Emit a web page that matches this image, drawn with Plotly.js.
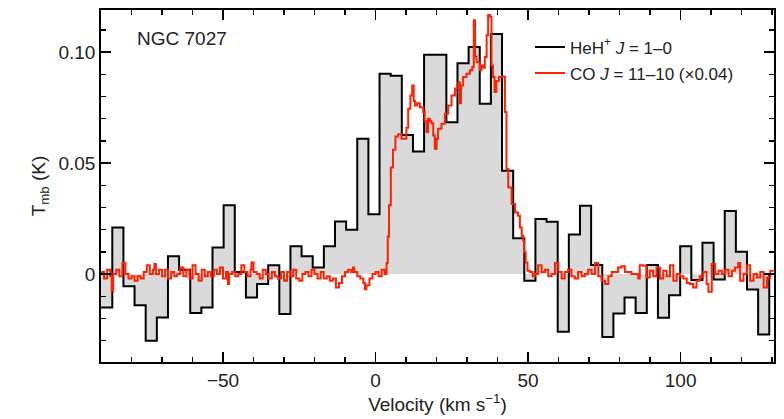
<!DOCTYPE html>
<html>
<head>
<meta charset="utf-8">
<script src="https://cdn.plot.ly/plotly-3.0.1.min.js"></script>
<style>html,body{margin:0;padding:0;background:#fff;}#chart{width:784px;height:419px;}</style>
</head>
<body>
<div id="chart"></div>
<script>
// HeH+ J=1-0 spectrum: bin edges (km/s) and bin values (K)
var hehEdges = [-89.95,-86.30,-82.65,-79.00,-75.35,-71.70,-68.05,-64.40,-60.75,-57.10,
  -53.45,-49.80,-46.15,-42.50,-38.85,-35.20,-31.55,-27.90,-24.25,-20.60,
  -16.95,-13.30,-9.65,-6.00,-2.35,1.30,4.95,8.60,12.25,15.90,
  19.55,23.20,26.85,30.50,34.15,37.80,41.45,45.10,48.75,52.40,
  56.05,59.70,63.35,67.00,70.65,74.30,77.95,81.60,85.25,88.90,
  92.55,96.20,99.85,103.50,107.15,110.80,114.45,118.10,121.75,125.40,
  129.05,132.70];
var hehT = [-0.015,0.021,-0.0055,-0.014,-0.030,-0.0195,0.008,0.002,-0.0175,-0.015,
  0.012,0.031,0.001,-0.0105,-0.0045,0.004,-0.018,0.0126,0.008,0.003,
  0.0126,0.0237,0.020,0.061,0.027,0.0903,0.0894,0.0627,0.0552,0.0988,
  0.0988,0.0684,0.095,0.1023,0.0768,0.1082,0.0466,0.0162,-0.003,0.0248,
  0.0236,-0.026,0.0179,0.0308,0.0041,-0.0283,-0.0177,-0.0105,-0.0175,0.0041,
  -0.0197,-0.0095,0.0126,-0.0027,0.0141,-0.0024,0.0284,0.0101,-0.0069,-0.0272,
  0.000];

// CO J=11-10 (x0.04) spectrum, in three pieces
var coLeftV = [-90,-89,-88,-87,-86.5,-86,-85,-84,-83,-82,
  -81,-80,-79,-78,-77,-76,-75,-74,-73,-72.5,
  -72,-71,-70,-69,-68,-67,-66,-65,-64,-63,
  -62,-61,-60,-59,-58,-57,-56,-55,-54,-53,
  -52,-51,-50,-49,-48.4,-48,-47,-46,-45,-44,
  -43,-42,-41,-40.7,-40,-39,-38,-37,-36,-35,
  -34,-33,-32,-31,-30,-29,-28,-27,-26,-25,
  -24,-23,-22,-21,-20,-19,-18,-17,-16,-15,
  -14,-13,-12,-11,-10,-9,-8,-7.4,-7,-6,
  -5,-4,-3.5,-3,-2,-1,0,1,2,3];
var coLeftT = [0.001,-0.002,0.002,-0.001,-0.0075,0.000,0.002,-0.001,0.005,0.000,
  -0.002,-0.001,-0.003,-0.001,-0.002,0.001,0.004,0.000,0.002,0.0045,
  0.000,0.002,-0.001,0.002,-0.002,0.001,-0.001,0.000,0.003,-0.001,
  0.002,-0.002,0.004,0.000,-0.003,0.002,-0.001,0.001,-0.001,0.002,
  0.000,0.003,-0.002,0.001,-0.0045,0.000,0.001,-0.001,0.000,0.004,
  0.001,-0.001,0.002,0.0052,0.001,0.000,-0.002,0.002,0.000,-0.002,
  0.001,-0.001,-0.002,0.001,-0.003,0.001,-0.001,0.002,-0.002,-0.003,
  0.000,0.001,-0.001,0.002,0.000,-0.002,0.001,-0.002,-0.001,-0.003,
  -0.002,-0.006,-0.004,-0.001,0.001,0.002,0.001,0.003,0.001,-0.001,
  -0.002,-0.004,-0.0068,-0.005,-0.002,0.000,0.001,-0.001,0.002,0.000];
var coLineV = [3.6,4.0,4.4,5.0,5.7,6.5,7.4,8.5,9.5,10.1,
  10.7,11.4,12.0,12.5,12.9,13.6,14.5,15.6,16.1,16.7,
  17.2,17.8,18.3,18.9,19.4,20.0,20.5,21.6,22.7,23.8,
  24.9,26.0,27.1,27.6,28.0,28.7,29.8,30.9,31.7,32.2,
  32.6,33.1,34.2,34.7,35.3,35.8,36.4,36.9,37.5,38.0,
  38.5,39.0,39.6,40.4,41.5,42.4,42.9,43.5,44.6,45.7,
  46.7,47.3,47.9,48.4,48.7,49.2,49.8];
var coLineT = [0.005,0.017,0.031,0.048,0.056,0.062,0.063,0.061,0.061,0.066,
  0.0745,0.0805,0.085,0.078,0.076,0.077,0.0752,0.073,0.069,0.064,
  0.070,0.069,0.068,0.0625,0.0565,0.061,0.0655,0.0678,0.0723,0.076,
  0.0805,0.0836,0.0865,0.077,0.085,0.0888,0.0903,0.0918,0.0933,0.1144,
  0.098,0.0956,0.092,0.094,0.093,0.0978,0.1076,0.1167,0.116,0.094,
  0.0888,0.082,0.087,0.0888,0.089,0.073,0.0474,0.039,0.0316,0.0278,
  0.0263,0.021,0.0173,0.015,0.0098,0.0052,0.0015];
var coRightV = [50.6,51.5,52.2,53.3,54.4,55.5,56.6,57.7,58.8,59.9,
  61.0,62.0,63.1,64.2,65.3,66.4,67.5,68.6,69.7,70.8,
  71.9,73.0,74.1,75.2,76.3,77.4,78.4,79.5,80.6,81.7,
  82.8,83.9,85.0,86.1,86.6,87.7,88.8,89.9,91.0,92.1,
  93.2,94.3,95.4,96.5,97.6,98.7,99.8,100.9,102.0,103.0,
  104.1,105.2,106.3,107.4,108.5,109.1,110.2,111.3,112.4,113.5,
  114.6,115.7,116.8,117.8,118.9,119.5,120.6,121.7,122.8,123.9,
  125.0,126.1,127.2,128.3,129.4,130.5];
var coRightT = [0.001,-0.001,0.000,0.004,0.001,0.002,-0.001,0.000,0.005,0.001,
  -0.002,0.001,0.002,-0.001,-0.002,0.001,-0.001,0.000,0.002,0.000,
  0.005,-0.001,-0.003,-0.0045,-0.001,0.001,0.001,0.003,0.0035,0.001,
  0.001,0.000,0.000,-0.002,0.004,0.0038,-0.0015,0.0015,-0.001,0.003,
  -0.002,0.0015,-0.001,0.004,-0.003,0.000,-0.001,-0.002,-0.004,-0.0045,
  -0.006,-0.003,-0.001,0.001,-0.0045,-0.008,0.0045,0.000,0.0015,0.000,
  0.002,-0.001,0.0015,0.003,0.005,-0.003,0.000,0.004,-0.003,0.000,
  -0.0015,0.001,-0.006,-0.0015,0.0015,0.0015];

var yTickVals = [0, 0.05, 0.10];
var yTickText = ['0', '0.05', '0.10'];
var xTickVals = [-50, 0, 50, 100];

var hehY = hehT.concat([hehT[hehT.length - 1]]);
var coV = coLeftV.concat(coLineV, coRightV);
var coT = coLeftT.concat(coLineT, coRightT);

var FONT = 'Liberation Sans, Arial, Helvetica, sans-serif';

var traces = [
  {x: hehEdges, y: hehY, type: 'scatter', mode: 'lines', line: {shape: 'hv', width: 0, color: 'rgba(0,0,0,0)'},
   fill: 'tozeroy', fillcolor: 'rgb(218,218,218)', showlegend: false, hoverinfo: 'skip'},
  {x: hehEdges, y: hehY, type: 'scatter', mode: 'lines', line: {shape: 'hv', width: 2, color: '#000'},
   name: 'HeH<sup>+</sup> <i>J</i> = 1–0', legendgroup: 'a'},
  {x: coV, y: coT, type: 'scatter', mode: 'lines', line: {shape: 'hv', width: 2, color: '#ff2200'},
   name: 'CO <i>J</i> = 11–10 (×0.04)', legendgroup: 'b'}
];

var axisCommon = {
  showline: true, linecolor: '#000', linewidth: 1.8, mirror: 'ticks',
  ticks: 'inside', ticklen: 10, tickwidth: 1.6, tickcolor: '#000',
  showgrid: false, zeroline: false,
  tickfont: {family: FONT, size: 19, color: '#222'}
};

var layout = {
  width: 784, height: 419,
  margin: {l: 101, r: 10, t: 9.5, b: 57},
  paper_bgcolor: '#fff', plot_bgcolor: '#fff',
  font: {family: FONT, color: '#222'},
  xaxis: Object.assign({}, axisCommon, {
    range: [-90, 130.6], tickvals: xTickVals,
    minor: {dtick: 10, tick0: 0, ticks: 'inside', ticklen: 5, tickwidth: 1.4, tickcolor: '#000'},
    title: {text: 'Velocity (km s<sup>−1</sup>)', font: {family: FONT, size: 19, color: '#222'}, standoff: 8}
  }),
  yaxis: Object.assign({}, axisCommon, {
    range: [-0.0396, 0.119], tickvals: yTickVals, ticktext: yTickText,
    minor: {dtick: 0.01, tick0: 0, ticks: 'inside', ticklen: 5, tickwidth: 1.4, tickcolor: '#000'},
    title: {text: 'T<sub>mb</sub> (K)', font: {family: FONT, size: 19, color: '#222'}, standoff: 8}
  }),
  showlegend: true,
  legend: {x: 0.6374, xanchor: 'left', y: 0.945, yanchor: 'top', bgcolor: 'rgba(0,0,0,0)',
    font: {family: FONT, size: 17, color: '#222'}, traceorder: 'grouped', tracegroupgap: 1},
  annotations: [{text: 'NGC 7027', xref: 'paper', yref: 'paper', x: 0.0505, y: 0.918,
    xanchor: 'left', yanchor: 'middle', showarrow: false, font: {family: FONT, size: 19, color: '#222'}}]
};

Plotly.newPlot('chart', traces, layout, {displayModeBar: false, staticPlot: true});
</script>
</body>
</html>
